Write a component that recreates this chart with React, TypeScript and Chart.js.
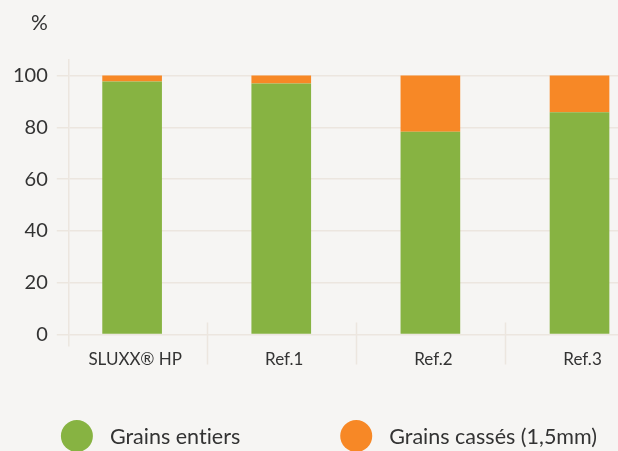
import React, { useEffect, useRef } from 'react';
import { Chart, registerables } from 'chart.js';

Chart.register(...registerables);

const categories = ['SLUXX® HP', 'Ref.1', 'Ref.2', 'Ref.3'];
const grainsEntiers = [97.7, 96.9, 78.3, 85.8];
const grainsCasses = [2.3, 3.1, 21.7, 14.2];
const seriesLabels = ['Grains entiers', 'Grains cassés (1,5mm)'];
const yTickValues = [0, 20, 40, 60, 80, 100];
const yUnit = '%';

const GREEN = '#87b342';
const ORANGE = '#f78826';
const GRID = '#ece6df';
const TEXT = '#333333';
const BG = '#f6f5f3';
const FONT = 'Lato';

export default function App() {
  const ref = useRef<HTMLCanvasElement>(null);

  useEffect(() => {
    if (!ref.current) return;

    const unitPlugin = {
      id: 'unitLabel',
      afterDraw(chart: any) {
        const ys = chart.scales.y;
        const ctx = chart.ctx;
        ctx.save();
        ctx.font = `21px ${FONT}`;
        ctx.fillStyle = TEXT;
        ctx.textAlign = 'right';
        ctx.textBaseline = 'middle';
        ctx.fillText(yUnit, ys.right - 12 - 9, 23);
        ctx.restore();
      },
    };

    const separatorPlugin = {
      id: 'categorySeparators',
      beforeDatasetsDraw(chart: any) {
        const xs = chart.scales.x;
        const area = chart.chartArea;
        const ctx = chart.ctx;
        ctx.save();
        ctx.strokeStyle = GRID;
        ctx.lineWidth = 1.5;
        ctx.beginPath();
        // left axis extension below baseline
        ctx.moveTo(area.left, area.bottom);
        ctx.lineTo(area.left, area.bottom + 12);
        for (let i = 0; i < categories.length - 1; i++) {
          const px = Math.round(xs.getPixelForValue(i + 0.5)) + 0.5;
          if (px > area.right) continue;
          ctx.moveTo(px, area.bottom - 12);
          ctx.lineTo(px, area.bottom + 30);
        }
        ctx.stroke();
        ctx.restore();
      },
    };

    const legendPlugin = {
      id: 'circleLegend',
      afterDraw(chart: any) {
        const ctx = chart.ctx;
        const r = 16;
        const gapText = 17;
        const gapItem = 100;
        ctx.save();
        ctx.font = `21.5px ${FONT}`;
        try {
          (ctx as any).textRendering = 'optimizeSpeed';
        } catch (e) {}
        const items = chart.data.datasets.map((ds: any) => ({
          label: ds.label as string,
          color: ds.backgroundColor as string,
          w: 2 * r + gapText + ctx.measureText(ds.label).width,
        }));
        const total = items.reduce((s: number, it: any) => s + it.w, 0) + gapItem * (items.length - 1);
        let x = (chart.width - total) / 2 + 20;
        const cy = chart.height - 15;
        for (const it of items) {
          ctx.fillStyle = it.color;
          ctx.beginPath();
          ctx.arc(x + r, cy, r, 0, Math.PI * 2);
          ctx.fill();
          ctx.fillStyle = TEXT;
          ctx.textAlign = 'left';
          ctx.textBaseline = 'middle';
          ctx.fillText(it.label, x + 2 * r + gapText, cy + 1);
          x += it.w + gapItem;
        }
        ctx.restore();
      },
    };

    const chart = new Chart(ref.current, {
      type: 'bar',
      data: {
        datasets: [
          {
            label: seriesLabels[0],
            data: grainsEntiers.map((v, i) => ({ x: i, y: v })),
            backgroundColor: GREEN,
            categoryPercentage: 0.4,
            barPercentage: 1,
          },
          {
            label: seriesLabels[1],
            data: grainsCasses.map((v, i) => ({ x: i, y: v })),
            backgroundColor: ORANGE,
            categoryPercentage: 0.4,
            barPercentage: 1,
          },
        ],
      },
      options: {
        animation: false,
        responsive: true,
        maintainAspectRatio: false,
        layout: { padding: { top: 60, left: 4, right: 0, bottom: 74 } },
        plugins: {
          legend: { display: false },
          tooltip: { enabled: false },
        },
        scales: {
          x: {
            type: 'linear',
            stacked: true,
            offset: false,
            min: -0.4245,
            max: 3.258,
            afterBuildTicks: (s: any) => {
              s.ticks = categories.map((_, i) => ({ value: i }));
            },
            ticks: {
              callback: (_v: any, i: number) => categories[i],
              labelOffset: 3,
              padding: 7,
              autoSkip: false,
              maxRotation: 0,
              color: TEXT,
              font: { family: FONT, size: 17 },
            },
            grid: { display: false },
            border: { display: false },
          },
          y: {
            stacked: true,
            min: 0,
            max: 106,
            afterBuildTicks: (s: any) => {
              s.ticks = yTickValues.map((v) => ({ value: v }));
            },
            ticks: {
              padding: 9,
              color: TEXT,
              font: { family: FONT, size: 20 },
            },
            grid: {
              color: GRID,
              lineWidth: 1.5,
              tickLength: 12,
            },
            border: { display: true, color: GRID, width: 1.5 },
          },
        },
      },
      plugins: [unitPlugin, separatorPlugin, legendPlugin],
    });

    return () => chart.destroy();
  }, []);

  return (
    <div
      style={{
        position: 'fixed',
        left: 0,
        top: 0,
        width: 618,
        height: 451,
        background: BG,
        overflow: 'hidden',
      }}
    >
      <canvas ref={ref} />
    </div>
  );
}
